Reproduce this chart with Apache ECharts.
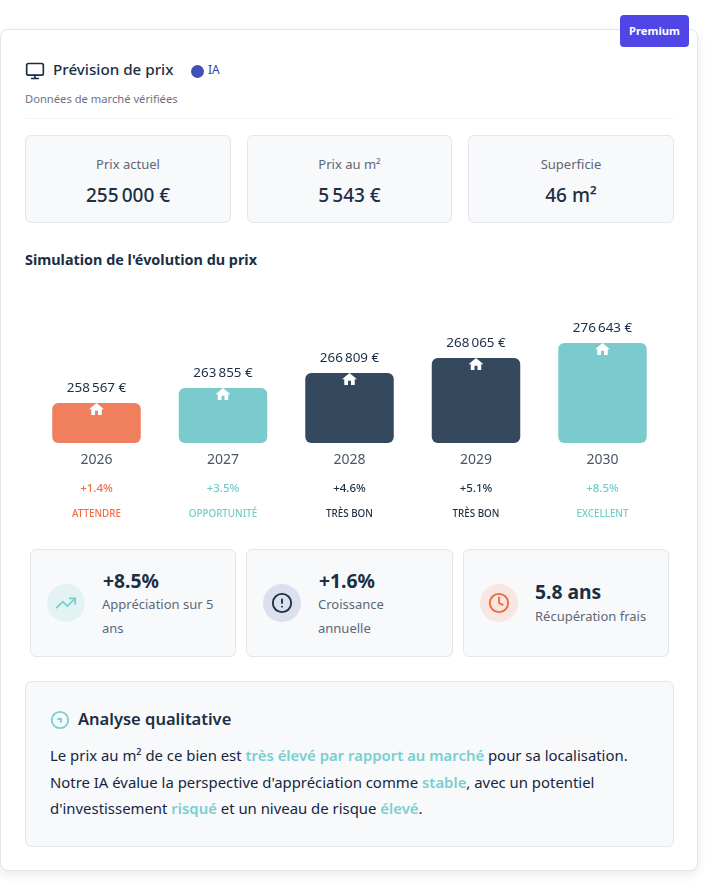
<!DOCTYPE html>
<html lang="fr">
<head>
<meta charset="utf-8">
<title>Prévision de prix</title>
<script src="https://cdn.jsdelivr.net/npm/echarts@6/dist/echarts.min.js"></script>
<style>
  html, body { margin: 0; padding: 0; background: #fff; }
  body { width: 716px; height: 882px; position: relative; overflow: hidden; font-family: "Noto Sans", sans-serif; color: #1a2e44; }
  .abs { position: absolute; white-space: nowrap; line-height: 1; }
  .card { position: absolute; left: 0; top: 29px; width: 698px; height: 842px; box-sizing: border-box; background: #fff; border: 1px solid #e2e5ea; border-radius: 8px; box-shadow: 0 4px 10px rgba(30, 50, 80, .10); }
  .badge { position: absolute; left: 620px; top: 15px; width: 69px; height: 32px; line-height: 32px; text-align: center; background: #4f46e5; color: #fff; border-radius: 4px; font-size: 11.2px; font-weight: 700; }
  .tile { position: absolute; box-sizing: border-box; background: #f8f9fb; border: 1px solid #e3e6eb; border-radius: 6px; }
  .tile .lbl { position: absolute; left: 0; right: 0; top: 19px; text-align: center; font-size: 13px; line-height: 18px; color: #5d6876; }
  .tile .val { position: absolute; left: 0; right: 0; top: 45px; text-align: center; font-size: 19px; line-height: 28px; font-weight: 500; color: #1a2e44; }
  .stat-val { font-size: 19.3px; font-weight: 700; color: #1a2e44; }
  .stat-lbl { font-size: 13px; color: #5d6876; line-height: 24px; white-space: normal; }
  .dot { position: absolute; width: 38px; height: 38px; border-radius: 50%; }
  .dot svg { position: absolute; left: 8px; top: 8px; width: 22px; height: 22px; }
  .txt { position: absolute; left: 50px; font-size: 14.9px; line-height: 20px; white-space: nowrap; color: #16263f; }
  .txt b { color: #79cfcf; font-weight: 600; }
  #myChart { position: absolute; left: 0; top: 290px; width: 700px; height: 245px; }
</style>
</head>
<body>
<div class="card"></div>
<div class="badge">Premium</div>

<svg class="abs" style="left:25px;top:61px" width="20" height="20" viewBox="0 0 24 24" fill="none" stroke="#1a2e44" stroke-width="2" stroke-linecap="round" stroke-linejoin="round"><rect x="2" y="3" width="20" height="14" rx="2"/><path d="M8 21h8M12 17v4"/></svg>
<div class="abs" style="left:53px;top:62px;font-size:15.2px;font-weight:500">Prévision de prix</div>
<div class="abs" style="left:190.5px;top:64.5px;width:13px;height:13px;border-radius:50%;background:#3f51b5"></div>
<div class="abs" style="left:208px;top:64px;font-size:12px;color:#2f43b0">IA</div>
<div class="abs" style="left:25px;top:93px;font-size:11.2px;color:#6b7280">Données de marché vérifiées</div>
<div class="abs" style="left:25px;top:118px;width:649px;height:1px;background:#f3f4f6"></div>

<div class="tile" style="left:25px;top:135px;width:206px;height:88px"><div class="lbl">Prix actuel</div><div class="val">255&#8239;000 €</div></div>
<div class="tile" style="left:247px;top:135px;width:205px;height:88px"><div class="lbl">Prix au m²</div><div class="val">5&#8239;543 €</div></div>
<div class="tile" style="left:468px;top:135px;width:206px;height:88px"><div class="lbl">Superficie</div><div class="val">46 m²</div></div>

<div class="abs" style="left:25px;top:253px;font-size:14.4px;font-weight:700">Simulation de l'évolution du prix</div>

<div id="myChart"></div>

<div class="tile" style="left:30px;top:549px;width:206px;height:108px"></div>
<div class="dot" style="left:47px;top:584px;background:#e3f3f3"><svg viewBox="0 0 24 24" fill="none" stroke="#79cfcf" stroke-width="2" stroke-linecap="round" stroke-linejoin="round"><path d="M22 7l-8.5 8.5-5-5L2 17"/><path d="M16 7h6v6"/></svg></div>
<div class="abs stat-val" style="left:103px;top:571px">+8.5%</div>
<div class="abs stat-lbl" style="left:102px;top:592px;width:125px">Appréciation sur 5 ans</div>

<div class="tile" style="left:246px;top:549px;width:207px;height:108px"></div>
<div class="dot" style="left:263px;top:584px;background:#dcdfee"><svg viewBox="0 0 24 24" fill="none" stroke="#1a2e44" stroke-width="2" stroke-linecap="round" stroke-linejoin="round"><circle cx="12" cy="12" r="10"/><path d="M12 8v4M12 16h.01"/></svg></div>
<div class="abs stat-val" style="left:319px;top:571px">+1.6%</div>
<div class="abs stat-lbl" style="left:318px;top:592px;width:100px">Croissance annuelle</div>

<div class="tile" style="left:463px;top:549px;width:206px;height:108px"></div>
<div class="dot" style="left:480px;top:584px;background:#f7e6e1"><svg viewBox="0 0 24 24" fill="none" stroke="#ee6a3c" stroke-width="2" stroke-linecap="round" stroke-linejoin="round"><circle cx="12" cy="12" r="10"/><path d="M12 6v6l4 2"/></svg></div>
<div class="abs stat-val" style="left:535px;top:582px">5.8 ans</div>
<div class="abs stat-lbl" style="left:535px;top:604px">Récupération frais</div>

<div class="tile" style="left:25px;top:681px;width:649px;height:166px"></div>
<svg class="abs" style="left:50px;top:710px" width="20" height="20" viewBox="0 0 20 20" fill="none" stroke="#79cfcf" stroke-width="1.8" stroke-linecap="round"><circle cx="10" cy="10" r="8.2"/><path d="M8 9h3v3"/></svg>
<div class="abs" style="left:78px;top:711px;font-size:16.5px;font-weight:600">Analyse qualitative</div>
<div class="txt" style="top:745px">Le prix au m² de ce bien est <b>très élevé par rapport au marché</b> pour sa localisation.</div>
<div class="txt" style="top:772px">Notre IA évalue la perspective d'appréciation comme <b>stable</b>, avec un potentiel</div>
<div class="txt" style="top:798px">d'investissement <b>risqué</b> et un niveau de risque <b>élevé</b>.</div>

<script>
var years = ["2026", "2027", "2028", "2029", "2030"];
var prices = [258567, 263855, 266809, 268065, 276643];
// bars are not to scale with the price, height is read from the picture (% of tallest)
var barHeights = [40, 55, 70, 85, 100];
var growth = ["+1.4%", "+3.5%", "+4.6%", "+5.1%", "+8.5%"];
var verdicts = ["ATTENDRE", "OPPORTUNITÉ", "TRÈS BON", "TRÈS BON", "EXCELLENT"];
var tones = ["orange", "teal", "navy", "navy", "teal"];

var barColors = { orange: "#f07f5e", teal: "#7bcbce", navy: "#34495e" };
var textColors = { orange: "#f26b3f", teal: "#72cccd", navy: "#1a2e44" };
var housePath = "path://M10 20v-6h4v6h5v-8h3L12 3 2 12h3v8z";

var rich = { year: { fontSize: 14, lineHeight: 30, color: "#4a5568", fontFamily: "Noto Sans" } };
Object.keys(textColors).forEach(function (t) {
  rich[t + "Pct"] = { fontSize: 11.5, fontWeight: 500, lineHeight: 28, color: textColors[t], fontFamily: "Noto Sans" };
  rich[t + "Verdict"] = { fontSize: 9.8, fontWeight: 500, lineHeight: 23, color: textColors[t], fontFamily: "Noto Sans" };
});

var chartDom = document.getElementById("myChart");
var myChart = echarts.init(chartDom);

var option = {
  animation: false,
  grid: { left: 33.25, top: 53, width: 632.5, height: 100 },
  xAxis: {
    type: "category",
    data: years,
    axisLine: { show: false },
    axisTick: { show: false },
    axisLabel: {
      margin: 2,
      interval: 0,
      formatter: function (value, i) {
        return "{year|" + value + "}\n{" + tones[i] + "Pct|" + growth[i] + "}\n{" + tones[i] + "Verdict|" + verdicts[i] + "}";
      },
      rich: rich,
    },
  },
  yAxis: { type: "value", min: 0, max: 100, show: false },
  series: [
    {
      type: "bar",
      barWidth: 88.5,
      data: barHeights.map(function (h, i) {
        return { value: h, itemStyle: { color: barColors[tones[i]] } };
      }),
      itemStyle: { borderRadius: 6 },
      label: {
        show: true,
        position: "top",
        distance: 8,
        fontSize: 13.4,
        fontFamily: "Noto Sans",
        color: "#1a2e44",
        formatter: function (p) {
          return prices[p.dataIndex].toLocaleString("fr-FR") + " €";
        },
      },
    },
    {
      type: "scatter",
      data: barHeights,
      symbol: housePath,
      symbolSize: [15, 12],
      symbolOffset: [0, 6],
      itemStyle: { color: "#fff", opacity: 1 },
      silent: true,
      z: 5,
    },
  ],
};

option && myChart.setOption(option);
</script>
</body>
</html>
